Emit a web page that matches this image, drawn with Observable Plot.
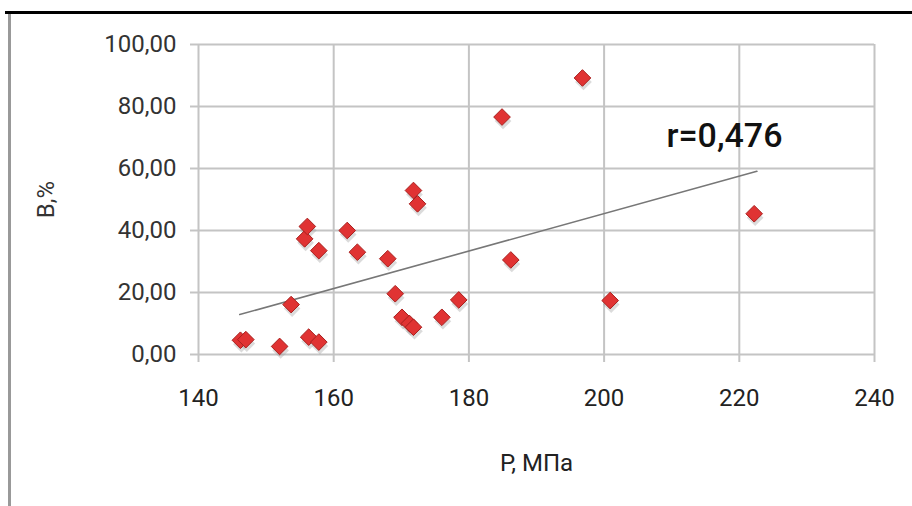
<!DOCTYPE html>
<html>
<head>
<meta charset="utf-8">
<script src="https://cdn.jsdelivr.net/npm/d3@7"></script>
<script src="https://cdn.jsdelivr.net/npm/@observablehq/plot@0.6"></script>
<style>
  html, body { margin: 0; padding: 0; background: #fff; }
  #wrap { position: relative; width: 912px; height: 506px; overflow: hidden; }
  #topline { position: absolute; left: 5px; top: 11px; width: 907px; height: 3px; background: #000; }
  #leftline { position: absolute; left: 8px; top: 14px; width: 3px; height: 492px; background: #999; }
</style>
</head>
<body>
<div id="wrap"><div id="chart"></div><div id="topline"></div><div id="leftline"></div></div>
<script>
// Data
const pressure = [146.2, 147.0, 152.0, 153.7, 155.7, 156.1, 156.3, 157.8, 157.8, 162.0, 163.5, 168.0, 169.1, 170.1, 171.2, 171.8, 171.8, 172.4, 176.0, 178.5, 184.9, 186.2, 196.8, 200.9, 222.2];
const bValue   = [4.6, 4.8, 2.6, 16.1, 37.3, 41.3, 5.6, 4.0, 33.5, 40.0, 33.0, 30.9, 19.6, 12.0, 10.0, 8.8, 52.9, 48.6, 12.0, 17.6, 76.6, 30.5, 89.2, 17.4, 45.4];
const trendP = [146.1, 222.6];
const trendB = [12.9, 59.1];
const xTicks = [140, 160, 180, 200, 220, 240];
const yTicks = [0, 20, 40, 60, 80, 100];
const annotationText = ["r=0,476"];
const annotationP = [217.8];
const annotationB = [70.3];

const points = pressure.map((p, i) => ({p, b: bValue[i]}));
const trend = trendP.map((p, i) => ({p, b: trendB[i]}));
const notes = annotationText.map((t, i) => ({t, p: annotationP[i], b: annotationB[i]}));

const fmt = d => d.toFixed(2).replace(".", ",");

const chart = Plot.plot({
  width: 912,
  height: 506,
  marginLeft: 198,
  marginRight: 38,
  marginTop: 44,
  marginBottom: 152,
  style: {fontFamily: "Roboto, sans-serif", fontSize: "24px", color: "#333", background: "transparent"},
  x: {domain: [140, 240]},
  y: {domain: [0, 100]},
  marks: [
    Plot.gridX({ticks: xTicks, stroke: "#c4c4c4", strokeOpacity: 1, strokeWidth: 2}),
    Plot.gridY({ticks: yTicks, stroke: "#c4c4c4", strokeOpacity: 1, strokeWidth: 2}),
    Plot.axisX({ticks: xTicks, tickSize: 8, tickPadding: 26, stroke: "#c4c4c4", strokeWidth: 2, fill: "#222",
      fontSize: 24, label: "P, МПа", labelAnchor: "center", labelOffset: 116, labelArrow: "none"}),
    Plot.axisY({ticks: yTicks, tickSize: 8, tickPadding: 14, stroke: "#c4c4c4", strokeWidth: 2, fill: "#333",
      fontSize: 24, tickFormat: fmt, label: "В,%", labelAnchor: "center", labelOffset: 162, labelArrow: "none"}),
    Plot.line(trend, {x: "p", y: "b", stroke: "#777", strokeWidth: 1.6}),
    Plot.dot(points, {x: "p", y: "b", symbol: "diamond2", r: 7.5, fill: "#999", fillOpacity: 0.35, stroke: "none", dy: 4, dx: 1}),
    Plot.dot(points, {x: "p", y: "b", symbol: "diamond2", r: 7.5, fill: "#e03333", stroke: "#a8201e", strokeWidth: 1}),
    Plot.text(notes, {x: "p", y: "b", text: "t", fontSize: 34, fontWeight: 500, fill: "#111", fontFamily: "Roboto, sans-serif"})
  ]
});
document.getElementById("chart").appendChild(chart);
</script>
</body>
</html>
